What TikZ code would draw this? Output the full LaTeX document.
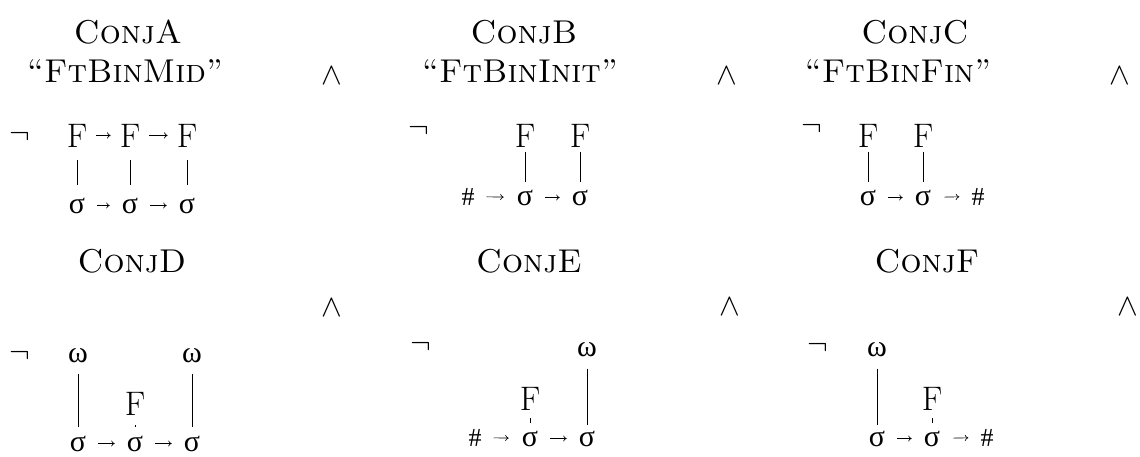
\documentclass[tikz,border=0pt]{standalone}
\usepackage{fontspec}
\newfontfamily\grk{Liberation Serif}
\usetikzlibrary{arrows.meta}
\newcommand{\bigwedgesym}{\scalebox{1.25}{$\wedge$}}
\newcommand{\bignegsym}{\scalebox{1.25}{$\neg$}}
\tikzset{
  ttl/.style={inner sep=0pt, anchor=base, font=\fontsize{33}{38}\selectfont\scshape},
  sym/.style={inner sep=0pt, font=\fontsize{24.88}{30}\selectfont},
  fnode/.style={inner sep=0pt, anchor=base, font=\fontsize{34}{40}\selectfont},
  gnode/.style={inner sep=0pt, anchor=base, font=\fontsize{30}{36}\selectfont\grk},
  hnode/.style={inner sep=0pt, anchor=base, font=\fontsize{26}{30}\selectfont\grk},
  vline/.style={line width=0.8pt},
  harrow/.style={line width=0.65pt, -{To[length=3.5pt,width=6pt]}},
}
\begin{document}
\begin{tikzpicture}[x=1pt,y=-1pt]
\useasboundingbox (0,0) rectangle (1140,456);
% ---------- Panel A ----------
\node[ttl] (tA) at (128,43) {ConjA};
\node[ttl] (tA2) at (125,82) {“FtBinMid”};
\node[sym] (andA) at (332,76) {\bigwedgesym};
\node[sym] (negA) at (20,137) {\bignegsym};
\node[fnode] (fA1) at (77,147) {F};
\node[fnode] (fA2) at (130,147) {F};
\node[fnode] (fA3) at (187,147) {F};
\node[gnode] (sA1) at (77,213) {σ};
\node[gnode] (sA2) at (130,213) {σ};
\node[gnode] (sA3) at (187,213) {σ};
\draw[harrow, shorten <=9pt, shorten >=9pt] (fA1) -- (fA2);
\draw[harrow, shorten <=9pt, shorten >=9pt] (fA2) -- (fA3);
\draw[harrow, shorten <=12pt, shorten >=12pt] (sA1) -- (sA2);
\draw[harrow, shorten <=12pt, shorten >=12pt] (sA2) -- (sA3);
\draw[vline, shorten <=13pt, shorten >=12pt] (fA1) -- (sA1);
\draw[vline, shorten <=13pt, shorten >=12pt] (fA2) -- (sA2);
\draw[vline, shorten <=13pt, shorten >=12pt] (fA3) -- (sA3);
% ---------- Panel B ----------
\node[ttl] (tB) at (524,43) {ConjB};
\node[ttl] (tB2) at (520,82) {“FtBinInit”};
\node[sym] (andB) at (727,76) {\bigwedgesym};
\node[sym] (negB) at (419,131) {\bignegsym};
\node[fnode] (fB1) at (525,147) {F};
\node[fnode] (fB2) at (580,147) {F};
\node[hnode] (hB) at (468,205) {\#};
\node[gnode] (sB1) at (525,205) {σ};
\node[gnode] (sB2) at (580,205) {σ};
\draw[harrow, shorten <=12pt, shorten >=13pt] (hB) -- (sB1);
\draw[harrow, shorten <=12pt, shorten >=12pt] (sB1) -- (sB2);
\draw[vline, shorten <=5pt, shorten >=7pt] (fB1) -- (sB1);
\draw[vline, shorten <=5pt, shorten >=7pt] (fB2) -- (sB2);
% ---------- Panel C ----------
\node[ttl] (tC) at (915,43) {ConjC};
\node[ttl] (tC2) at (898,82) {“FtBinFin”};
\node[sym] (andC) at (1120,76) {\bigwedgesym};
\node[sym] (negC) at (812,129) {\bignegsym};
\node[fnode] (fC1) at (868,147) {F};
\node[fnode] (fC2) at (923,147) {F};
\node[gnode] (sC1) at (868,205) {σ};
\node[gnode] (sC2) at (923,205) {σ};
\node[hnode] (hC) at (978,205) {\#};
\draw[harrow, shorten <=12pt, shorten >=12pt] (sC1) -- (sC2);
\draw[harrow, shorten <=13pt, shorten >=12pt] (sC2) -- (hC);
\draw[vline, shorten <=5pt, shorten >=7pt] (fC1) -- (sC1);
\draw[vline, shorten <=5pt, shorten >=7pt] (fC2) -- (sC2);
% ---------- Panel D ----------
\node[ttl] (tD) at (132,272) {ConjD};
\node[sym] (andD) at (332,308) {\bigwedgesym};
\node[sym] (negD) at (20,356) {\bignegsym};
\node[gnode] (wD1) at (78,362) {ω};
\node[gnode] (wD2) at (192,362) {ω};
\node[fnode] (fD) at (135,415) {F};
\node[gnode] (sD1) at (78,451) {σ};
\node[gnode] (sD2) at (135,451) {σ};
\node[gnode] (sD3) at (192,451) {σ};
\draw[harrow, shorten <=12pt, shorten >=12pt] (sD1) -- (sD2);
\draw[harrow, shorten <=12pt, shorten >=12pt] (sD2) -- (sD3);
\draw[vline, shorten <=11pt, shorten >=8pt] (wD1) -- (sD1);
\draw[vline, shorten <=11pt, shorten >=8pt] (wD2) -- (sD3);
\draw[vline, shorten <=10pt, shorten >=8pt] (fD) -- (sD2);
% ---------- Panel E ----------
\node[ttl] (tE) at (529,272) {ConjE};
\node[sym] (andE) at (730,307) {\bigwedgesym};
\node[sym] (negE) at (421,347) {\bignegsym};
\node[gnode] (wE) at (587,356) {ω};
\node[fnode] (fE) at (530,410) {F};
\node[hnode] (hE) at (475,446) {\#};
\node[gnode] (sE1) at (530,446) {σ};
\node[gnode] (sE2) at (587,446) {σ};
\draw[harrow, shorten <=12pt, shorten >=13pt] (hE) -- (sE1);
\draw[harrow, shorten <=12pt, shorten >=12pt] (sE1) -- (sE2);
\draw[vline, shorten <=12pt, shorten >=5pt] (wE) -- (sE2);
\draw[vline, shorten <=8pt, shorten >=7pt] (fE) -- (sE1);
% ---------- Panel F ----------
\node[ttl] (tF) at (927,272) {ConjF};
\node[sym] (andF) at (1128,307) {\bigwedgesym};
\node[sym] (negF) at (818,348) {\bignegsym};
\node[gnode] (wF) at (877,356) {ω};
\node[fnode] (fF) at (932,410) {F};
\node[gnode] (sF1) at (877,446) {σ};
\node[gnode] (sF2) at (932,446) {σ};
\node[hnode] (hF) at (987,446) {\#};
\draw[harrow, shorten <=12pt, shorten >=12pt] (sF1) -- (sF2);
\draw[harrow, shorten <=13pt, shorten >=12pt] (sF2) -- (hF);
\draw[vline, shorten <=12pt, shorten >=5pt] (wF) -- (sF1);
\draw[vline, shorten <=8pt, shorten >=7pt] (fF) -- (sF2);
\end{tikzpicture}
\end{document}
